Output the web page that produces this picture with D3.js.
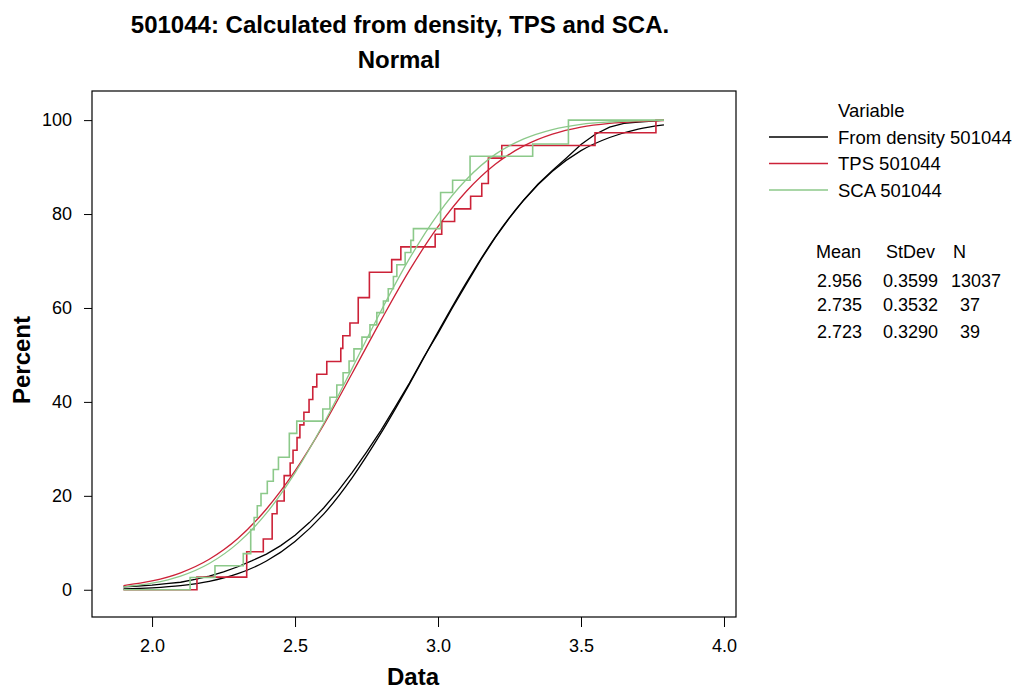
<!DOCTYPE html>
<html>
<head>
<meta charset="utf-8">
<script src="https://d3js.org/d3.v7.min.js"></script>
<style>
  body { margin: 0; background: #fff; }
  svg { font-family: "Liberation Sans", Arial, sans-serif; }
  .axis text { font-size: 18px; fill: #000; }
  .axis line { stroke: #000; }
</style>
</head>
<body>
<svg width="1016" height="689"></svg>
<script>
// ---- data ----
var xTicks = [2.0, 2.5, 3.0, 3.5, 4.0];
var yTicks = [0, 20, 40, 60, 80, 100];

var seriesNames = ["From density 501044", "TPS 501044", "SCA 501044"];
var seriesColors = ["#000000", "#cc2238", "#8cc98a"];
var statMean = ["2.956", "2.735", "2.723"];
var statStDev = ["0.3599", "0.3532", "0.3290"];
var statN = ["13037", "37", "39"];

var xStart = 1.90, xEnd = 3.79;

// TPS empirical CDF: step positions and percent after each step
var tpsX = [2.157, 2.331, 2.389, 2.420, 2.437, 2.462, 2.483, 2.493, 2.507, 2.517, 2.531, 2.549,
            2.562, 2.576, 2.611, 2.660, 2.667, 2.692, 2.721, 2.760, 2.838, 2.870, 2.990, 3.013,
            3.058, 3.114, 3.153, 3.176, 3.223, 3.549, 3.762];
var tpsPct = [2.7, 8.1, 10.8, 16.2, 18.9, 24.3, 27.0, 29.7, 32.4, 35.1, 37.8, 40.5,
              43.2, 45.9, 48.6, 51.4, 54.1, 56.8, 62.2, 67.6, 70.3, 73.0, 75.7, 78.4,
              81.1, 83.8, 86.5, 91.9, 94.6, 97.3, 100];

// SCA empirical CDF
var scaX = [2.133, 2.220, 2.319, 2.345, 2.357, 2.368, 2.381, 2.403, 2.424, 2.442, 2.480, 2.506,
            2.597, 2.622, 2.646, 2.668, 2.689, 2.706, 2.734, 2.762, 2.786, 2.809, 2.826, 2.844,
            2.856, 2.885, 2.905, 2.914, 3.009, 3.051, 3.112, 3.331, 3.456];
var scaPct = [2.6, 5.1, 7.7, 12.8, 15.4, 17.9, 20.5, 23.1, 25.6, 28.2, 33.3, 35.9,
              38.5, 41.0, 43.6, 46.2, 48.7, 51.3, 53.8, 56.4, 59.0, 61.5, 64.1, 66.7,
              69.2, 71.8, 74.4, 76.9, 84.6, 87.2, 92.3, 94.9, 100];

// From density: empirical CDF (fine grid)
var denX = [1.90, 1.95, 2.00, 2.05, 2.10, 2.15, 2.20, 2.25, 2.30, 2.35, 2.40, 2.45, 2.50, 2.55,
            2.60, 2.65, 2.70, 2.75, 2.80, 2.85, 2.90, 2.95, 3.00, 3.05, 3.10, 3.15, 3.20, 3.25,
            3.30, 3.35, 3.40, 3.45, 3.50, 3.55, 3.60, 3.65, 3.70, 3.75, 3.79];
var denPct = [0.6, 0.8, 1.0, 1.3, 1.6, 2.2, 2.9, 3.8, 4.9, 6.2, 7.6, 9.4, 11.6, 14.3,
              17.4, 21.0, 25.0, 29.3, 33.9, 38.9, 44.0, 49.5, 54.6, 60.0, 65.2, 70.3, 75.0, 79.2,
              83.0, 86.4, 89.3, 92.0, 94.8, 97.0, 98.5, 99.3, 99.6, 99.8, 100];

// fitted normal curves (percent at each x)
var fitX = [1.90, 2.00, 2.10, 2.20, 2.30, 2.40, 2.50, 2.60, 2.70, 2.80, 2.90, 3.00,
            3.10, 3.20, 3.30, 3.40, 3.50, 3.60, 3.70, 3.79];
var denFit = [0.17, 0.40, 0.87, 1.78, 3.42, 6.12, 10.3, 16.1, 23.9, 33.3, 43.8, 54.9,
              65.5, 75.1, 83.0, 89.1, 93.5, 96.3, 98.1, 99.0];
var tpsFit = [0.90, 1.87, 3.61, 6.49, 10.9, 17.2, 25.3, 35.1, 46.1, 57.3, 68.0, 77.3,
              84.9, 90.6, 94.5, 97.0, 98.5, 99.3, 99.7, 99.9];
var scaFit = [0.62, 1.40, 2.91, 5.59, 9.93, 16.3, 24.9, 35.4, 47.2, 59.3, 70.5, 80.0,
              87.4, 92.7, 96.0, 98.0, 99.1, 99.6, 99.85, 99.94];

// ---- chart ----
var svg = d3.select("svg");
var plotL = 92, plotR = 736, plotT = 91, plotB = 617;

var x = d3.scaleLinear().domain([1.79, 4.042]).range([plotL, plotR]);
var y = d3.scaleLinear().domain([-5.8, 106.2]).range([plotB, plotT]);

svg.append("text")
   .attr("x", 400).attr("y", 33)
   .attr("text-anchor", "middle")
   .style("font-size", "24px").style("font-weight", "bold")
   .text("501044: Calculated from density, TPS and SCA.");

svg.append("text")
   .attr("x", 399).attr("y", 68)
   .attr("text-anchor", "middle")
   .style("font-size", "24px").style("font-weight", "bold")
   .text("Normal");

// axes
var gx = svg.append("g").attr("class", "axis")
   .attr("transform", "translate(0," + plotB + ")")
   .call(d3.axisBottom(x).tickValues(xTicks).tickSize(10).tickPadding(12)
         .tickFormat(d3.format(".1f")));
gx.select(".domain").remove();

var gy = svg.append("g").attr("class", "axis")
   .attr("transform", "translate(" + plotL + ",0)")
   .call(d3.axisLeft(y).tickValues(yTicks).tickSize(8).tickPadding(12));
gy.select(".domain").remove();

svg.append("text")
   .attr("x", 413).attr("y", 685)
   .attr("text-anchor", "middle")
   .style("font-size", "24px").style("font-weight", "bold")
   .text("Data");

svg.append("text")
   .attr("transform", "translate(30,360) rotate(-90)")
   .attr("text-anchor", "middle")
   .style("font-size", "24px").style("font-weight", "bold")
   .text("Percent");

// lines
function stepPoints(xs, ps) {
   var pts = [[xStart, 0]];
   xs.forEach(function(v, i) { pts.push([v, ps[i]]); });
   pts.push([xEnd, ps[ps.length - 1]]);
   return pts;
}
function zipPts(xs, ps) {
   return xs.map(function(v, i) { return [v, ps[i]]; });
}

var stepLine = d3.line().x(function(d) { return x(d[0]); })
   .y(function(d) { return y(d[1]); }).curve(d3.curveStepAfter);
var smoothLine = d3.line().x(function(d) { return x(d[0]); })
   .y(function(d) { return y(d[1]); }).curve(d3.curveMonotoneX);
var plainLine = d3.line().x(function(d) { return x(d[0]); })
   .y(function(d) { return y(d[1]); });

var plot = svg.append("g").attr("fill", "none");

plot.append("path").attr("d", plainLine(zipPts(denX, denPct)))
   .attr("stroke", seriesColors[0]).attr("stroke-width", 1.3);
plot.append("path").attr("d", smoothLine(zipPts(fitX, denFit)))
   .attr("stroke", seriesColors[0]).attr("stroke-width", 1.3);

plot.append("path").attr("d", stepLine(stepPoints(tpsX, tpsPct)))
   .attr("stroke", seriesColors[1]).attr("stroke-width", 1.6);
plot.append("path").attr("d", smoothLine(zipPts(fitX, tpsFit)))
   .attr("stroke", seriesColors[1]).attr("stroke-width", 1.3);

plot.append("path").attr("d", stepLine(stepPoints(scaX, scaPct)))
   .attr("stroke", seriesColors[2]).attr("stroke-width", 1.6);
plot.append("path").attr("d", smoothLine(zipPts(fitX, scaFit)))
   .attr("stroke", seriesColors[2]).attr("stroke-width", 1.3);

// frame
svg.append("rect")
   .attr("x", plotL).attr("y", plotT)
   .attr("width", plotR - plotL).attr("height", plotB - plotT)
   .attr("fill", "none").attr("stroke", "#000").attr("stroke-width", 1.2);

// legend
var lg = svg.append("g").style("font-size", "18.5px");
lg.append("text").attr("x", 838).attr("y", 117).text("Variable");
seriesNames.forEach(function(name, i) {
   var yy = 137 + i * 26.5;
   lg.append("line").attr("x1", 769).attr("x2", 828)
      .attr("y1", yy).attr("y2", yy)
      .attr("stroke", seriesColors[i]).attr("stroke-width", 1.3);
   lg.append("text").attr("x", 838).attr("y", yy + 6.5).text(name);
});

// stats table
var st = svg.append("g").style("font-size", "18px");
st.append("text").attr("x", 816).attr("y", 258).text("Mean");
st.append("text").attr("x", 886).attr("y", 258).text("StDev");
st.append("text").attr("x", 953).attr("y", 258).text("N");
var rowY = [287, 311, 338];
statMean.forEach(function(m, i) {
   st.append("text").attr("x", 817).attr("y", rowY[i]).text(m);
   st.append("text").attr("x", 883).attr("y", rowY[i]).text(statStDev[i]);
   st.append("text").attr("x", i === 0 ? 951 : 960).attr("y", rowY[i]).text(statN[i]);
});
</script>
</body>
</html>
